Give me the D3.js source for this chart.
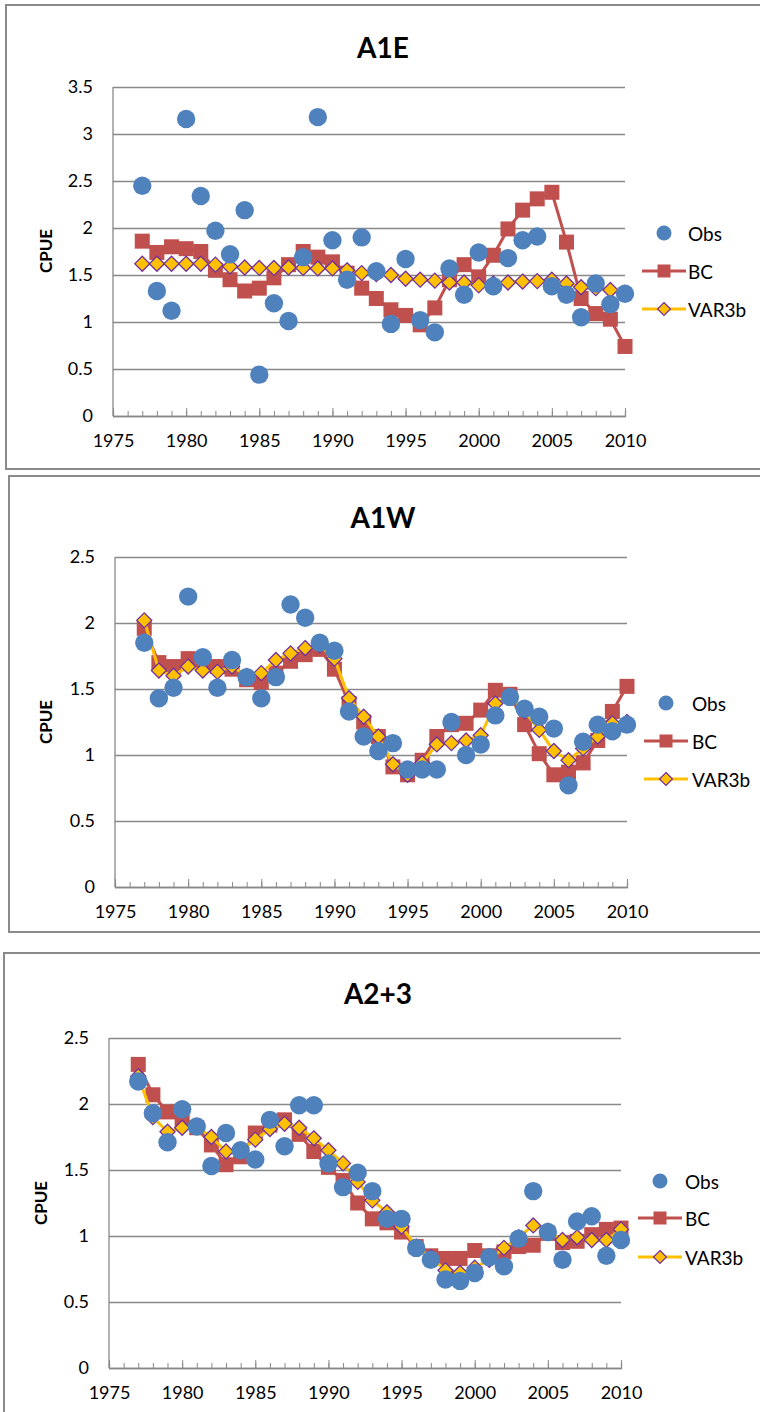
<!DOCTYPE html>
<html>
<head>
<meta charset="utf-8">
<script src="https://cdn.jsdelivr.net/npm/d3@7"></script>
<style>
  html, body { margin: 0; padding: 0; background: #fff; }
  svg { display: block; font-family: Lato, "Open Sans", sans-serif; }
</style>
</head>
<body>
<svg id="chart" width="760" height="1412"></svg>
<script>
// ---- data -------------------------------------------------------------
const years = [1977,1978,1979,1980,1981,1982,1983,1984,1985,1986,1987,1988,1989,1990,1991,1992,1993,
               1994,1995,1996,1997,1998,1999,2000,2001,2002,2003,2004,2005,2006,2007,2008,2009,2010];
const xTickLabels = [1975,1980,1985,1990,1995,2000,2005,2010];
const seriesNames = ["Obs","BC","VAR3b"];

const a1eObs = [2.45,1.33,1.12,3.16,2.34,1.97,1.72,2.19,0.44,1.20,1.01,1.69,3.18,1.87,1.45,1.90,1.54,
                0.98,1.67,1.02,0.89,1.57,1.29,1.74,1.38,1.68,1.87,1.91,1.38,1.29,1.05,1.41,1.19,1.30];
const a1eBC  = [1.86,1.74,1.80,1.78,1.75,1.55,1.45,1.33,1.36,1.47,1.61,1.75,1.69,1.64,1.52,1.36,1.25,
                1.13,1.07,0.97,1.15,1.45,1.61,1.48,1.71,1.99,2.19,2.31,2.38,1.85,1.25,1.09,1.03,0.74];
const a1eVAR = [1.62,1.62,1.62,1.62,1.62,1.61,1.59,1.58,1.575,1.575,1.58,1.575,1.57,1.57,1.55,1.52,1.51,
                1.50,1.46,1.45,1.44,1.42,1.42,1.39,1.41,1.42,1.43,1.435,1.45,1.41,1.37,1.36,1.34,1.31];

const a1wObs = [1.85,1.43,1.51,2.20,1.74,1.51,1.72,1.59,1.43,1.59,2.14,2.04,1.85,1.79,1.33,1.14,1.03,
                1.09,0.89,0.89,0.89,1.25,1.00,1.08,1.30,1.44,1.35,1.29,1.20,0.77,1.10,1.23,1.18,1.23];
const a1wBC  = [1.96,1.70,1.67,1.73,1.70,1.67,1.65,1.57,1.55,1.62,1.71,1.76,1.80,1.65,1.39,1.25,1.14,
                0.91,0.85,0.96,1.14,1.23,1.24,1.34,1.49,1.46,1.23,1.01,0.85,0.87,0.94,1.11,1.33,1.52];
const a1wVAR = [2.02,1.64,1.60,1.67,1.64,1.63,1.67,1.60,1.62,1.72,1.77,1.81,1.83,1.73,1.43,1.29,1.14,
                0.93,0.85,0.94,1.08,1.09,1.11,1.15,1.39,1.45,1.33,1.19,1.03,0.96,1.05,1.14,1.24,1.25];

const a23Obs = [2.17,1.93,1.71,1.96,1.83,1.53,1.78,1.65,1.58,1.88,1.68,1.99,1.99,1.55,1.37,1.48,1.34,
                1.13,1.13,0.91,0.82,0.67,0.66,0.72,0.84,0.77,0.98,1.34,1.03,0.82,1.11,1.15,0.85,0.97];
const a23BC  = [2.30,2.07,1.94,1.88,1.82,1.69,1.54,1.60,1.78,1.84,1.88,1.77,1.64,1.52,1.42,1.25,1.13,
                1.10,1.03,0.92,0.85,0.83,0.83,0.89,0.85,0.88,0.92,0.93,1.02,0.95,0.96,1.01,1.05,1.06];
const a23VAR = [2.21,1.90,1.79,1.82,1.83,1.75,1.64,1.65,1.73,1.81,1.85,1.82,1.74,1.65,1.55,1.41,1.27,
                1.18,1.07,0.92,0.84,0.74,0.72,0.76,0.82,0.91,0.99,1.08,1.04,0.97,0.99,0.97,0.97,1.05];

const yTicksA1E = [0,0.5,1,1.5,2,2.5,3,3.5];
const yTicksA = [0,0.5,1,1.5,2,2.5];

// ---- panel layout ------------------------------------------------------
const panels = [
  { title: "A1E", obs: a1eObs, bc: a1eBC, v: a1eVAR, yMax: 3.5, yTicks: yTicksA1E,
    box: [6, 5, 780, 464], x0: 113, x1: 625, yTop: 87, yBot: 416,
    titleXY: [383, 47], yLabXY: [45, 251], legX: 664, legTextX: 688, legY: [233, 271, 309] },
  { title: "A1W", obs: a1wObs, bc: a1wBC, v: a1wVAR, yMax: 2.5, yTicks: yTicksA,
    box: [9, 476, 780, 456], x0: 115, x1: 627, yTop: 557, yBot: 887,
    titleXY: [383, 517], yLabXY: [45, 722], legX: 666, legTextX: 692, legY: [703, 741, 779] },
  { title: "A2+3", obs: a23Obs, bc: a23BC, v: a23VAR, yMax: 2.5, yTicks: yTicksA,
    box: [4, 953, 780, 500], x0: 109, x1: 621, yTop: 1038, yBot: 1368,
    titleXY: [378, 993], yLabXY: [40, 1203], legX: 660, legTextX: 685, legY: [1181, 1218, 1257] }
];

const C = { obs: "#4F81BD", bc: "#C0504D", v: "#FFC000", vEdge: "#7030A0", grid: "#898989", text: "#000" };

const svg = d3.select("#chart");

function diamondPath(h) {
  return `M0,${-h}L${h},0L0,${h}L${-h},0Z`;
}

panels.forEach(p => {
  const g = svg.append("g");

  // frame
  g.append("rect")
    .attr("x", p.box[0]).attr("y", p.box[1])
    .attr("width", p.box[2]).attr("height", p.box[3])
    .attr("fill", "#fff").attr("stroke", "#8a8a8a").attr("stroke-width", 2);

  const x = d3.scaleLinear().domain([1975, 2010]).range([p.x0, p.x1]);
  const y = d3.scaleLinear().domain([0, p.yMax]).range([p.yBot, p.yTop]);

  // y axis with gridlines
  const yAxis = g.append("g")
    .attr("transform", `translate(${p.x0},0)`)
    .call(d3.axisLeft(y).tickValues(p.yTicks).tickFormat(d3.format("~g"))
      .tickSize(-(p.x1 - p.x0)).tickPadding(20));
  yAxis.select(".domain").remove();
  yAxis.selectAll(".tick line").attr("stroke", C.grid).attr("stroke-width", 1.3);
  yAxis.selectAll(".tick text").attr("fill", C.text).style("font-size", "18px")
    .style("font-family", "Lato, sans-serif");

  // vertical axis line
  g.append("line").attr("x1", p.x0).attr("x2", p.x0).attr("y1", p.yTop).attr("y2", p.yBot)
    .attr("stroke", C.grid).attr("stroke-width", 1.3);

  // x axis: yearly minor ticks, longer majors every 5 years, labels below
  const minor = g.append("g").attr("transform", `translate(0,${p.yBot})`)
    .call(d3.axisTop(x).tickValues(d3.range(1975, 2011)).tickSize(5).tickFormat(""));
  minor.select(".domain").attr("stroke", C.grid).attr("stroke-width", 1.3);
  minor.selectAll(".tick line").attr("stroke", C.grid);
  const major = g.append("g").attr("transform", `translate(0,${p.yBot})`)
    .call(d3.axisTop(x).tickValues(xTickLabels).tickSize(8).tickFormat(""));
  major.select(".domain").remove();
  major.selectAll(".tick line").attr("stroke", C.grid);
  const xLab = g.append("g").attr("transform", `translate(0,${p.yBot})`)
    .call(d3.axisBottom(x).tickValues(xTickLabels).tickSize(0).tickPadding(18).tickFormat(d3.format("d")));
  xLab.select(".domain").remove();
  xLab.selectAll(".tick text").attr("fill", C.text).style("font-size", "18px")
    .style("font-family", "Lato, sans-serif");

  // title and axis label
  g.append("text").attr("x", p.titleXY[0]).attr("y", p.titleXY[1])
    .attr("text-anchor", "middle").attr("dominant-baseline", "central")
    .style("font-size", "28px").style("font-weight", "bold").text(p.title);
  g.append("text")
    .attr("transform", `translate(${p.yLabXY[0]},${p.yLabXY[1]}) rotate(-90)`)
    .attr("text-anchor", "middle").attr("dominant-baseline", "central")
    .style("font-size", "17px").style("font-weight", "bold").text("CPUE");

  const pts = arr => years.map((yr, i) => ({ yr, v: arr[i] }));
  const line = d3.line().x(d => x(d.yr)).y(d => y(d.v));

  // BC: line + squares
  g.append("path").datum(pts(p.bc)).attr("d", line)
    .attr("fill", "none").attr("stroke", C.bc).attr("stroke-width", 3).attr("stroke-linejoin", "round");
  g.selectAll(".bc").data(pts(p.bc)).join("rect")
    .attr("x", d => x(d.yr) - 7.5).attr("y", d => y(d.v) - 7.5)
    .attr("width", 15).attr("height", 15).attr("fill", C.bc);

  // VAR3b: line + diamonds
  g.append("path").datum(pts(p.v)).attr("d", line)
    .attr("fill", "none").attr("stroke", C.v).attr("stroke-width", 3).attr("stroke-linejoin", "round");
  g.selectAll(".vd").data(pts(p.v)).join("path")
    .attr("transform", d => `translate(${x(d.yr)},${y(d.v)})`)
    .attr("d", diamondPath(7.5)).attr("fill", C.v)
    .attr("stroke", C.vEdge).attr("stroke-width", 1.3);

  // Obs: circles
  g.selectAll(".obs").data(pts(p.obs)).join("circle")
    .attr("cx", d => x(d.yr)).attr("cy", d => y(d.v)).attr("r", 9.2).attr("fill", C.obs);

  // legend
  const lg = g.append("g");
  const [yo, yb, yv] = p.legY;
  lg.append("circle").attr("cx", p.legX).attr("cy", yo).attr("r", 7.5).attr("fill", C.obs);
  lg.append("line").attr("x1", p.legX - 22).attr("x2", p.legX + 22).attr("y1", yb).attr("y2", yb)
    .attr("stroke", C.bc).attr("stroke-width", 3);
  lg.append("rect").attr("x", p.legX - 6.5).attr("y", yb - 6.5).attr("width", 13).attr("height", 13)
    .attr("fill", C.bc);
  lg.append("line").attr("x1", p.legX - 22).attr("x2", p.legX + 22).attr("y1", yv).attr("y2", yv)
    .attr("stroke", C.v).attr("stroke-width", 3);
  lg.append("path").attr("transform", `translate(${p.legX},${yv})`).attr("d", diamondPath(6.5))
    .attr("fill", C.v).attr("stroke", C.vEdge).attr("stroke-width", 1.2);
  lg.selectAll(".lt").data(seriesNames).join("text")
    .attr("x", p.legTextX).attr("y", (d, i) => p.legY[i])
    .attr("dominant-baseline", "central").style("font-size", "19px").text(d => d);
});
</script>
</body>
</html>
